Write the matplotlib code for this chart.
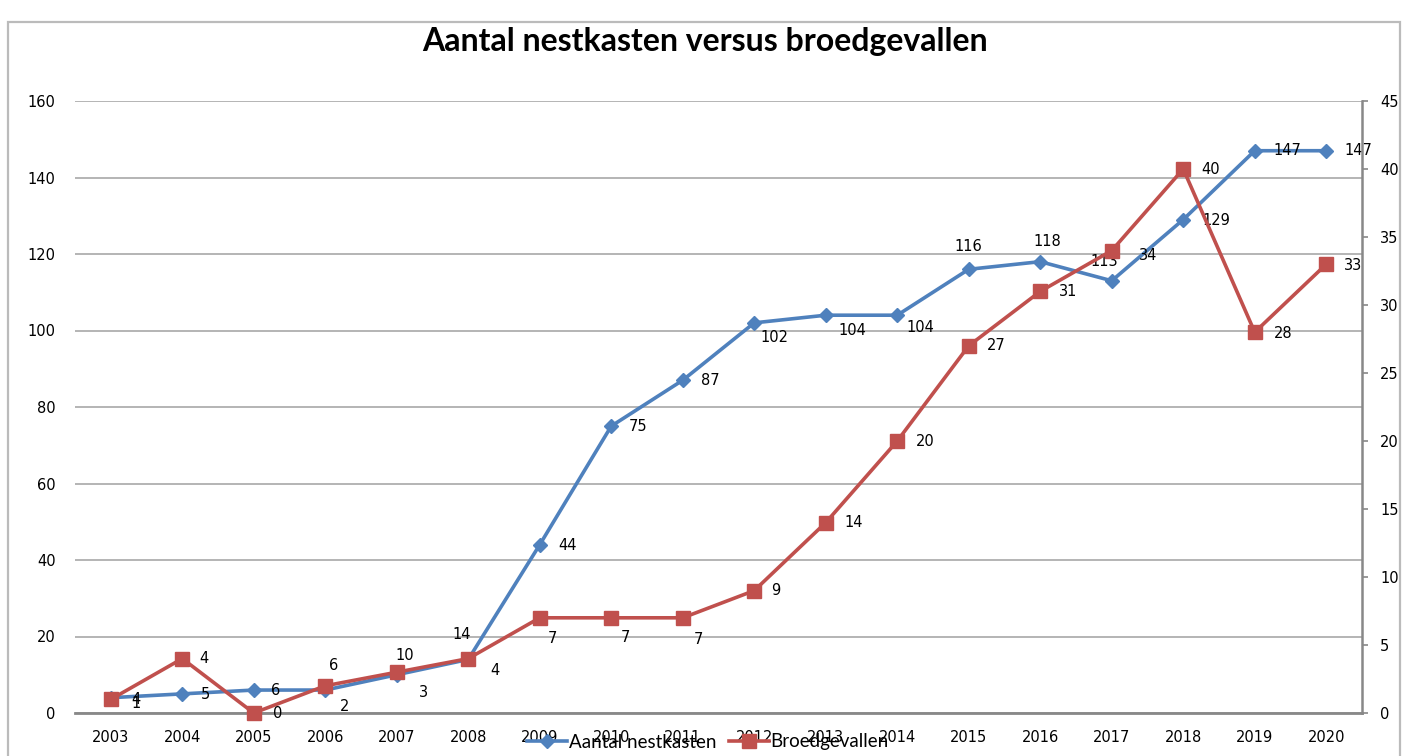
import matplotlib
matplotlib.use("Agg")
import matplotlib.pyplot as plt
from matplotlib.patches import Rectangle
from matplotlib.lines import Line2D

years = ["2003", "2004", "2005", "2006", "2007", "2008", "2009", "2010", "2011",
         "2012", "2013", "2014", "2015", "2016", "2017", "2018", "2019", "2020"]
nestkasten = [4, 5, 6, 6, 10, 14, 44, 75, 87, 102, 104, 104, 116, 118, 113, 129, 147, 147]
broedgevallen = [1, 4, 0, 2, 3, 4, 7, 7, 7, 9, 14, 20, 27, 31, 34, 40, 28, 33]

left_ticks = [0, 20, 40, 60, 80, 100, 120, 140, 160]
right_ticks = [0, 5, 10, 15, 20, 25, 30, 35, 40, 45]

# label placement (pixel offsets of label centre from point)
blue_off = [(25, -2), (23, -1), (22, 0), (8, 25), (8, 19), (-7, 25), (28, -1), (27, 0), (28, 0),
            (20, -15), (27, -15), (23, -12), (0, 23), (7, 20), (-7, 19), (33, -1), (33, 0), (32, 0)]
red_off = [(25, -4), (22, 0), (24, 0), (19, -21), (27, -20), (27, -12), (13, -21), (14, -20), (16, -22),
           (22, 0), (28, 0), (28, 0), (28, 0), (28, 0), (36, -5), (27, 0), (28, -1), (27, -1)]

BLUE = "#4F81BD"
RED = "#C0504D"
W, H = 1407, 756
fig = plt.figure(figsize=(W / 100, H / 100), dpi=100)

# outer chart frame
fig.patches.append(Rectangle((8 / W, -0.01), (1400 - 8) / W, 1 - 22 / H + 0.01,
                             transform=fig.transFigure, fill=False,
                             edgecolor="#BBBBBB", linewidth=1.6))

ax = fig.add_axes([75 / W, 1 - 713 / H, (1362 - 75) / W, (713 - 101) / H])
ax2 = ax.twinx()

x = list(range(len(years)))
ax.plot(x, nestkasten, color=BLUE, linewidth=2.6, marker="D", markersize=7,
        markerfacecolor=BLUE, markeredgecolor=BLUE, zorder=3, clip_on=False)
ax2.plot(x, broedgevallen, color=RED, linewidth=2.6, marker="s", markersize=10,
         markerfacecolor=RED, markeredgecolor=RED, zorder=3, clip_on=False)

ax.set_xlim(-0.5, len(years) - 0.5)
ax.set_ylim(0, 160)
ax2.set_ylim(0, 45)

ax.set_xticks(x)
ax.set_xticklabels(years)
ax.set_yticks(left_ticks)
ax.set_yticklabels([str(v) for v in left_ticks])
ax2.set_yticks(right_ticks)
ax2.set_yticklabels([str(v) for v in right_ticks])

for lab in ax.get_xticklabels() + ax.get_yticklabels() + ax2.get_yticklabels():
    lab.set_fontsize(10.5)
    lab.set_family("DejaVu Sans")

ax.tick_params(axis="x", length=0, pad=12, colors="black")
ax.tick_params(axis="y", length=0, pad=14, colors="black")
ax2.tick_params(axis="y", length=4, width=1.2, color="#888888", pad=9, direction="out")

ax.grid(axis="y", color="#A0A0A0", linewidth=1.1)
ax.set_axisbelow(True)
for s in ["left", "top", "right"]:
    ax.spines[s].set_visible(False)
ax.spines["bottom"].set_color("#888888")
ax.spines["bottom"].set_linewidth(2)
for s in ["left", "top", "bottom"]:
    ax2.spines[s].set_visible(False)
ax2.spines["right"].set_color("#888888")
ax2.spines["right"].set_linewidth(1.8)
ax.patch.set_visible(False)

for i, v in enumerate(nestkasten):
    dx, dy = blue_off[i]
    ax.annotate(str(v), (x[i], v), xytext=(dx, dy), textcoords="offset pixels",
                ha="center", va="center", fontsize=10.5, color="black", zorder=5,
                annotation_clip=False, family="DejaVu Sans")
for i, v in enumerate(broedgevallen):
    dx, dy = red_off[i]
    ax2.annotate(str(v), (x[i], v), xytext=(dx, dy), textcoords="offset pixels",
                 ha="center", va="center", fontsize=10.5, color="black", zorder=5,
                 annotation_clip=False, family="DejaVu Sans")

fig.text(705 / W, 1 - 41 / H, "Aantal nestkasten versus broedgevallen",
         ha="center", va="center", fontsize=23, fontweight="bold", family="Lato")

handles = [Line2D([], [], color=BLUE, linewidth=2.6, marker="D", markersize=7),
           Line2D([], [], color=RED, linewidth=2.6, marker="s", markersize=10)]
leg = fig.legend(handles, ["Aantal nestkasten", "Broedgevallen"], loc="center",
                 bbox_to_anchor=(708 / W, 1 - 742 / H), ncol=2, frameon=False,
                 prop={"family": "Lato", "size": 13.5}, handlelength=2.1,
                 handletextpad=0.1, columnspacing=0.7, borderpad=0, borderaxespad=0)

fig.savefig("out.png", dpi=100)
